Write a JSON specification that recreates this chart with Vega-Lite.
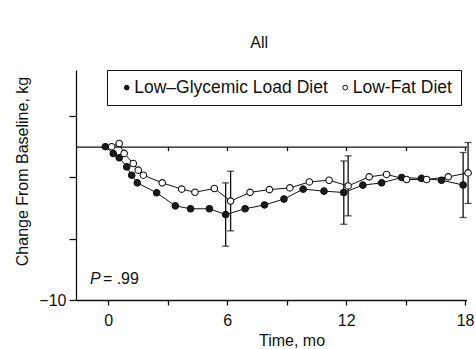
{
  "$schema": "https://vega.github.io/schema/vega-lite/v6.json",
  "width": 390.5,
  "height": 230,
  "autosize": "none",
  "padding": {"left": 76, "top": 70, "right": 9.5, "bottom": 49},
  "background": "white",
  "title": {
    "text": "All",
    "font": "Liberation Sans",
    "fontSize": 16,
    "fontWeight": "normal",
    "color": "#111",
    "dx": -12,
    "offset": 19
  },
  "config": {
    "view": {"stroke": null},
    "font": "Liberation Sans",
    "axis": {
      "grid": false,
      "domainColor": "#111",
      "tickColor": "#111",
      "labelColor": "#111",
      "titleColor": "#111",
      "labelFont": "Liberation Sans",
      "titleFont": "Liberation Sans",
      "labelFontSize": 16,
      "titleFontSize": 16,
      "titleFontWeight": "normal",
      "labelOverlap": false,
      "domainWidth": 1.3,
      "tickWidth": 1.3
    }
  },
  "datasets": {
    "weight": [
      {"month": -0.15, "change": 0, "diet": "Low–Glycemic Load Diet"},
      {"month": 0.25, "change": -0.45, "diet": "Low–Glycemic Load Diet"},
      {"month": 0.55, "change": -0.72, "diet": "Low–Glycemic Load Diet"},
      {"month": 0.93, "change": -1.32, "diet": "Low–Glycemic Load Diet"},
      {"month": 1.18, "change": -1.86, "diet": "Low–Glycemic Load Diet"},
      {"month": 1.46, "change": -2.36, "diet": "Low–Glycemic Load Diet"},
      {"month": 2.44, "change": -3.01, "diet": "Low–Glycemic Load Diet"},
      {"month": 3.38, "change": -3.86, "diet": "Low–Glycemic Load Diet"},
      {"month": 4.15, "change": -4.05, "diet": "Low–Glycemic Load Diet"},
      {"month": 5.1, "change": -4.05, "diet": "Low–Glycemic Load Diet"},
      {"month": 5.92, "change": -4.43, "diet": "Low–Glycemic Load Diet"},
      {"month": 6.9, "change": -4.05, "diet": "Low–Glycemic Load Diet"},
      {"month": 7.88, "change": -3.8, "diet": "Low–Glycemic Load Diet"},
      {"month": 8.86, "change": -3.42, "diet": "Low–Glycemic Load Diet"},
      {"month": 9.83, "change": -2.77, "diet": "Low–Glycemic Load Diet"},
      {"month": 10.88, "change": -2.9, "diet": "Low–Glycemic Load Diet"},
      {"month": 11.88, "change": -2.99, "diet": "Low–Glycemic Load Diet"},
      {"month": 12.84, "change": -2.51, "diet": "Low–Glycemic Load Diet"},
      {"month": 13.79, "change": -2.36, "diet": "Low–Glycemic Load Diet"},
      {"month": 14.8, "change": -2.01, "diet": "Low–Glycemic Load Diet"},
      {"month": 15.8, "change": -2.07, "diet": "Low–Glycemic Load Diet"},
      {"month": 16.81, "change": -2.19, "diet": "Low–Glycemic Load Diet"},
      {"month": 17.9, "change": -2.5, "diet": "Low–Glycemic Load Diet"},
      {"month": 0.17, "change": 0, "diet": "Low-Fat Diet"},
      {"month": 0.55, "change": 0.21, "diet": "Low-Fat Diet"},
      {"month": 0.8, "change": -0.44, "diet": "Low-Fat Diet"},
      {"month": 1.26, "change": -1.1, "diet": "Low-Fat Diet"},
      {"month": 1.51, "change": -1.53, "diet": "Low-Fat Diet"},
      {"month": 1.77, "change": -1.86, "diet": "Low-Fat Diet"},
      {"month": 2.72, "change": -2.36, "diet": "Low-Fat Diet"},
      {"month": 3.7, "change": -2.77, "diet": "Low-Fat Diet"},
      {"month": 4.37, "change": -2.97, "diet": "Low-Fat Diet"},
      {"month": 5.35, "change": -2.73, "diet": "Low-Fat Diet"},
      {"month": 6.17, "change": -3.55, "diet": "Low-Fat Diet"},
      {"month": 7.15, "change": -2.98, "diet": "Low-Fat Diet"},
      {"month": 8.13, "change": -2.8, "diet": "Low-Fat Diet"},
      {"month": 9.16, "change": -2.69, "diet": "Low-Fat Diet"},
      {"month": 10.14, "change": -2.3, "diet": "Low-Fat Diet"},
      {"month": 11.14, "change": -2.19, "diet": "Low-Fat Diet"},
      {"month": 12.1, "change": -2.56, "diet": "Low-Fat Diet"},
      {"month": 13.16, "change": -1.97, "diet": "Low-Fat Diet"},
      {"month": 14.04, "change": -1.81, "diet": "Low-Fat Diet"},
      {"month": 15.05, "change": -2.14, "diet": "Low-Fat Diet"},
      {"month": 16.06, "change": -2.14, "diet": "Low-Fat Diet"},
      {"month": 17.15, "change": -1.97, "diet": "Low-Fat Diet"},
      {"month": 18.15, "change": -1.71, "diet": "Low-Fat Diet"}
    ],
    "ranges": [
      {"month": 5.92, "lo": -6.49, "hi": -2.36, "diet": "Low–Glycemic Load Diet"},
      {"month": 6.17, "lo": -5.49, "hi": -1.6, "diet": "Low-Fat Diet"},
      {"month": 11.88, "lo": -5.06, "hi": -0.93, "diet": "Low–Glycemic Load Diet"},
      {"month": 12.1, "lo": -4.51, "hi": -0.6, "diet": "Low-Fat Diet"},
      {"month": 17.9, "lo": -4.62, "hi": -0.38, "diet": "Low–Glycemic Load Diet"},
      {"month": 18.15, "lo": -3.7, "hi": 0.27, "diet": "Low-Fat Diet"}
    ],
    "note": [
      {"month": -0.93, "change": -8.97, "symbol": "P", "value": "= .99"}
    ]
  },
  "resolve": {"axis": {"x": "independent"}},
  "layer": [
    {
      "data": {"name": "weight"},
      "mark": {"type": "line", "color": "#111", "strokeWidth": 1},
      "encoding": {
        "x": {
          "field": "month",
          "type": "quantitative",
          "scale": {"domain": [-1.63, 18.07], "nice": false, "zero": false},
          "axis": {
            "values": [0, 3, 6, 9, 12, 15, 18],
            "labelExpr": "datum.value % 6 === 0 ? datum.label : ''",
            "tickSize": 5,
            "labelPadding": 7,
            "labelFlush": false,
            "title": "Time, mo",
            "titlePadding": 4,
            "titleX": 215.5
          }
        },
        "y": {
          "field": "change",
          "type": "quantitative",
          "title": "Change From Baseline, kg",
          "scale": {"domain": [-10, 5], "nice": false},
          "axis": {
            "values": [-10, -9, -8, -7, -6, -5, -4, -3, -2, -1, 0, 1, 2, 3, 4, 5],
            "labelExpr": "datum.value % 5 === 0 ? datum.label : ''",
            "tickSize": 7,
            "labelPadding": 3,
            "titlePadding": 8,
            "titleY": 101
          }
        },
        "detail": {"field": "diet"}
      }
    },
    {
      "data": {"name": "ranges"},
      "mark": {
        "type": "errorbar",
        "color": "#111",
        "thickness": 1.3,
        "ticks": {"size": 7, "thickness": 1.3}
      },
      "encoding": {
        "x": {"field": "month", "type": "quantitative", "axis": null},
        "y": {"field": "lo", "type": "quantitative", "title": "Change From Baseline, kg"},
        "y2": {"field": "hi"}
      }
    },
    {
      "data": {"name": "weight"},
      "mark": {
        "type": "point",
        "filled": true,
        "size": 42,
        "opacity": 1,
        "stroke": "#111",
        "strokeWidth": 1.1
      },
      "encoding": {
        "x": {
          "field": "month",
          "type": "quantitative",
          "axis": {
            "orient": "bottom",
            "offset": -153.33,
            "values": [3, 6, 9, 12, 15, 18],
            "labels": false,
            "title": null,
            "tickSize": 4
          }
        },
        "y": {"field": "change", "type": "quantitative", "title": "Change From Baseline, kg"},
        "fill": {
          "field": "diet",
          "type": "nominal",
          "scale": {
            "domain": ["Low–Glycemic Load Diet", "Low-Fat Diet"],
            "range": ["#1a1a1a", "#ffffff"]
          },
          "legend": {
            "orient": "none",
            "legendX": 31,
            "legendY": 0,
            "direction": "horizontal",
            "title": null,
            "strokeColor": "#111",
            "padding": 8.5,
            "labelFont": "Liberation Sans",
            "labelFontSize": 17.5,
            "labelColor": "#111",
            "labelLimit": 400,
            "symbolType": "circle",
            "symbolSize": 22,
            "symbolStrokeColor": "#111",
            "symbolStrokeWidth": 1,
            "symbolOffset": 2.5,
            "labelOffset": -1.3,
            "columnPadding": 5.5
          }
        }
      }
    },
    {
      "data": {"name": "note"},
      "mark": {
        "type": "text",
        "font": "Liberation Sans",
        "fontStyle": "italic",
        "fontSize": 16,
        "align": "left",
        "baseline": "alphabetic",
        "color": "#111"
      },
      "encoding": {
        "x": {"field": "month", "type": "quantitative", "axis": null},
        "y": {"field": "change", "type": "quantitative", "title": "Change From Baseline, kg"},
        "text": {"field": "symbol"}
      }
    },
    {
      "data": {"name": "note"},
      "mark": {
        "type": "text",
        "font": "Liberation Sans",
        "fontSize": 16,
        "align": "left",
        "baseline": "alphabetic",
        "color": "#111",
        "dx": 13
      },
      "encoding": {
        "x": {"field": "month", "type": "quantitative", "axis": null},
        "y": {"field": "change", "type": "quantitative", "title": "Change From Baseline, kg"},
        "text": {"field": "value"}
      }
    }
  ]
}
